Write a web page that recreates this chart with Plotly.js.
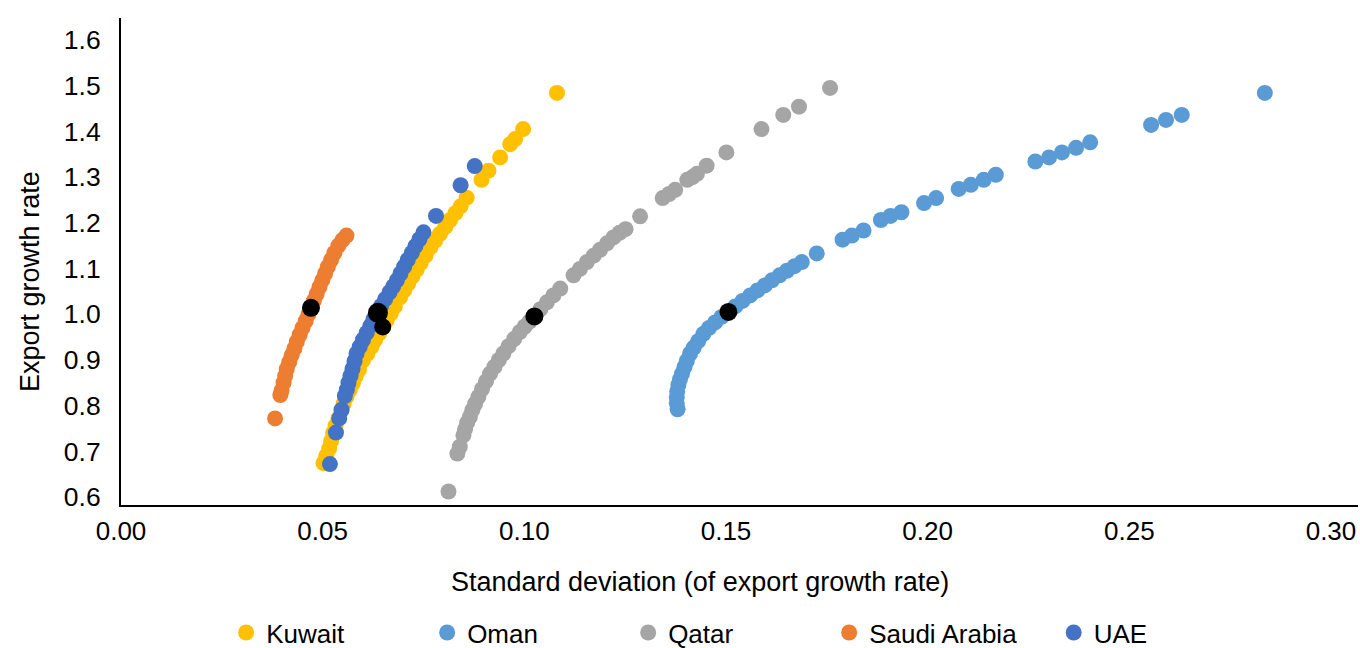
<!DOCTYPE html>
<html>
<head>
<meta charset="utf-8">
<script src="https://cdn.plot.ly/plotly-3.0.1.min.js"></script>
<style>
  html, body { margin: 0; padding: 0; background: #ffffff; }
  #chart { width: 1360px; height: 648px; }
</style>
</head>
<body>
<div id="chart"></div>
<script>
// ---- Data ----
const seriesNames = ["Kuwait", "Oman", "Qatar", "Saudi Arabia", "UAE"];
const seriesColors = ["#FFC000", "#5B9BD5", "#A5A5A5", "#ED7D31", "#4472C4"];

const kuwaitX = [0.0502,0.0509,0.0516,0.0521,0.0526,0.0532,0.0539,0.0546,0.0552,0.0559,0.0567,0.0575,0.0582,0.0590,0.0600,0.0611,0.0621,0.0630,0.0640,0.0649,0.0659,0.0669,0.0679,0.0692,0.0702,0.0712,0.0722,0.0733,0.0743,0.0755,0.0767,0.0779,0.0791,0.0804,0.0816,0.0829,0.0842,0.0857,0.0894,0.0911,0.0940,0.0965,0.0977,0.0997,0.1081];
const kuwaitY = [0.674,0.690,0.706,0.722,0.740,0.756,0.772,0.788,0.804,0.819,0.834,0.849,0.864,0.879,0.899,0.914,0.929,0.944,0.958,0.972,0.987,1.002,1.017,1.037,1.052,1.067,1.082,1.097,1.112,1.128,1.146,1.161,1.176,1.191,1.206,1.221,1.236,1.255,1.294,1.314,1.343,1.372,1.383,1.405,1.484];

const omanX = [0.1380,0.1378,0.1378,0.1379,0.1382,0.1386,0.1391,0.1397,0.1403,0.1411,0.1420,0.1431,0.1444,0.1458,0.1473,0.1489,0.1506,0.1523,0.1541,0.1560,0.1578,0.1596,0.1614,0.1633,0.1651,0.1670,0.1688,0.1725,0.1789,0.1812,0.1841,0.1884,0.1908,0.1935,0.1991,0.2021,0.2077,0.2107,0.2139,0.2169,0.2267,0.2301,0.2333,0.2368,0.2403,0.2554,0.2591,0.2630,0.2836];
const omanY = [0.792,0.805,0.818,0.831,0.845,0.858,0.870,0.884,0.898,0.914,0.927,0.941,0.957,0.970,0.982,0.994,1.005,1.017,1.029,1.041,1.052,1.063,1.074,1.085,1.095,1.105,1.114,1.133,1.163,1.172,1.183,1.206,1.215,1.223,1.243,1.254,1.274,1.283,1.294,1.305,1.334,1.343,1.354,1.364,1.376,1.414,1.425,1.436,1.484];

const qatarX = [0.0812,0.0834,0.0840,0.0849,0.0853,0.0858,0.0865,0.0871,0.0878,0.0886,0.0895,0.0905,0.0915,0.0926,0.0937,0.0948,0.0961,0.0975,0.0989,0.1001,0.1013,0.1025,0.1040,0.1056,0.1072,0.1089,0.1122,0.1138,0.1155,0.1172,0.1188,0.1205,0.1221,0.1236,0.1251,0.1287,0.1343,0.1359,0.1374,0.1404,0.1417,0.1428,0.1452,0.1501,0.1588,0.1642,0.1681,0.1758];
const qatarY = [0.612,0.695,0.710,0.735,0.748,0.762,0.775,0.790,0.804,0.819,0.836,0.853,0.870,0.885,0.900,0.914,0.930,0.946,0.961,0.973,0.984,0.995,1.011,1.026,1.041,1.056,1.085,1.099,1.114,1.128,1.141,1.155,1.168,1.178,1.186,1.214,1.254,1.263,1.272,1.294,1.300,1.307,1.325,1.354,1.405,1.436,1.454,1.495];

const saudiX = [0.0382,0.0395,0.0398,0.0403,0.0407,0.0411,0.0417,0.0423,0.0430,0.0436,0.0443,0.0450,0.0458,0.0465,0.0471,0.0478,0.0485,0.0492,0.0499,0.0506,0.0513,0.0521,0.0529,0.0539,0.0549,0.0559];
const saudiY = [0.772,0.823,0.833,0.850,0.865,0.880,0.895,0.910,0.925,0.940,0.955,0.970,0.985,1.000,1.014,1.029,1.044,1.059,1.074,1.089,1.104,1.119,1.134,1.150,1.162,1.172];

const uaeX = [0.0518,0.0533,0.0541,0.0547,0.0555,0.0560,0.0564,0.0569,0.0574,0.0579,0.0584,0.0592,0.0600,0.0609,0.0618,0.0626,0.0634,0.0645,0.0655,0.0666,0.0675,0.0684,0.0693,0.0702,0.0711,0.0721,0.0730,0.0740,0.0750,0.0781,0.0842,0.0877];
const uaeY = [0.672,0.741,0.772,0.791,0.821,0.835,0.850,0.865,0.880,0.897,0.914,0.929,0.944,0.959,0.974,0.989,1.003,1.018,1.033,1.048,1.061,1.074,1.089,1.104,1.119,1.134,1.149,1.164,1.179,1.215,1.282,1.324];

// highlighted points (black), order: Kuwait, Oman, Qatar, Saudi Arabia, UAE
const highlightX = [0.0649,0.1506,0.1025,0.0471,0.0637];
const highlightY = [0.972,1.005,0.995,1.014,1.003];

const xTickVals = [0.00,0.05,0.10,0.15,0.20,0.25,0.30];
const yTickVals = [0.6,0.7,0.8,0.9,1.0,1.1,1.2,1.3,1.4,1.5,1.6];

// ---- Chart ----
const FONT = "Liberation Sans, Arial, Helvetica, sans-serif";
const seriesX = [kuwaitX, omanX, qatarX, saudiX, uaeX];
const seriesY = [kuwaitY, omanY, qatarY, saudiY, uaeY];

const traces = seriesNames.map((name, i) => ({
  type: "scatter",
  mode: "markers",
  name: name,
  x: seriesX[i],
  y: seriesY[i],
  legend: i === 4 ? "legend2" : "legend",
  marker: { color: seriesColors[i], size: 16, opacity: 1, line: { width: 0 } },
  hoverinfo: "x+y+name"
}));

traces.push({
  type: "scatter",
  mode: "markers",
  name: "Highlighted",
  showlegend: false,
  x: highlightX,
  y: highlightY,
  marker: { color: "#000000", size: [17, 18, 18, 18, 20], sizemode: "diameter", opacity: 1, line: { width: 0 } }
});

const legendBase = {
  orientation: "h",
  y: -0.262,
  xanchor: "left", yanchor: "middle",
  entrywidth: 156,
  entrywidthmode: "pixels",
  font: { family: FONT, size: 26, color: "#000000" },
  bgcolor: "rgba(0,0,0,0)",
  itemclick: false,
  itemdoubleclick: false
};

const layout = {
  width: 1360,
  height: 648,
  paper_bgcolor: "#ffffff",
  plot_bgcolor: "#ffffff",
  font: { family: FONT, size: 26.5, color: "#000000" },
  margin: { l: 121, r: 2, t: 18, b: 143, autoexpand: false },
  showlegend: true,
  xaxis: {
    range: [0, 0.3067],
    tickvals: xTickVals,
    tickformat: ".2f",
    showgrid: false,
    zeroline: false,
    showline: true,
    linecolor: "#000000",
    linewidth: 2,
    ticks: "",
    ticklabelstandoff: 2,
    ticklabeloverflow: "allow",
    tickfont: { family: FONT, size: 26, color: "#000000" }
  },
  yaxis: {
    range: [0.5825, 1.648],
    tickvals: yTickVals,
    tickformat: ".1f",
    showgrid: false,
    zeroline: false,
    showline: true,
    linecolor: "#000000",
    linewidth: 2,
    ticks: "",
    ticklabelstandoff: 13,
    tickfont: { family: FONT, size: 26.5, color: "#000000" }
  },
  annotations: [
    {
      text: "Standard deviation (of export growth rate)",
      xref: "paper", yref: "paper",
      x: 0.468, y: -0.158,
      xanchor: "center", yanchor: "middle",
      showarrow: false,
      font: { family: FONT, size: 27, color: "#000000" }
    },
    {
      text: "Export growth rate",
      xref: "paper", yref: "paper",
      x: -0.0736, y: 0.46,
      xanchor: "center", yanchor: "middle",
      textangle: -90,
      showarrow: false,
      font: { family: FONT, size: 27, color: "#000000" }
    }
  ],
  legend: Object.assign({}, legendBase, { x: 0.085 }),
  legend2: Object.assign({}, legendBase, { x: 0.754, entrywidth: 60 })
};

Plotly.newPlot("chart", traces, layout, { displayModeBar: false, staticPlot: true });
</script>
</body>
</html>
